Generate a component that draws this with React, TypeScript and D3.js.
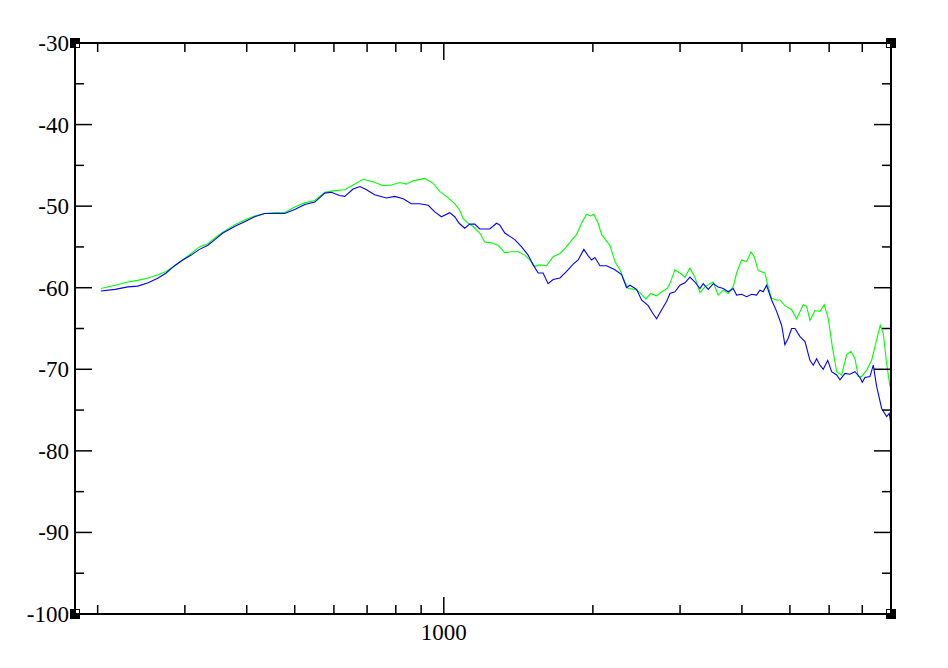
import React from "react";
import * as d3 from "d3";

const greenFreq = [203,217,230,241,253,265,275,286,297,309,321,334,345,358,378,396,415,435,456,477,500,524,549,575,602,631,656,687,720,754,784,815,841,867,915,952,981,1013,1052,1077,1094,1120,1146,1182,1210,1248,1287,1328,1370,1413,1458,1492,1527,1563,1613,1663,1716,1756,1811,1854,1897,1942,1979,2009,2050,2083,2165,2216,2268,2321,2357,2432,2489,2559,2616,2690,2754,2826,2862,2929,2998,3069,3141,3215,3290,3368,3447,3500,3582,3667,3753,3841,3902,3994,4088,4171,4236,4314,4451,4520,4592,4700,4773,4885,5040,5158,5320,5404,5488,5617,5749,5866,5976,6088,6214,6360,6510,6641,6766,6871,6980,7144,7311,7483,7610,7718,7840,7962];
const greenDb = [-60.1,-59.7,-59.3,-59.1,-58.8,-58.4,-58.0,-57.3,-56.6,-55.8,-55.0,-54.6,-53.9,-53.2,-52.3,-51.7,-51.2,-50.9,-50.8,-50.8,-50.1,-49.6,-49.3,-48.3,-48.1,-48.0,-47.4,-46.7,-47.0,-47.5,-47.4,-47.1,-47.3,-46.9,-46.6,-47.2,-48.2,-48.8,-49.7,-50.5,-51.5,-52.1,-52.5,-53.3,-54.4,-54.5,-54.8,-55.7,-55.6,-55.6,-56.0,-56.6,-57.4,-57.2,-57.3,-56.2,-55.8,-55.2,-54.2,-53.5,-52.1,-51.0,-51.2,-51.0,-52.1,-53.5,-54.8,-56.8,-57.8,-59.3,-60.1,-60.2,-60.6,-61.4,-60.7,-61.0,-60.5,-60.1,-59.5,-57.8,-58.2,-58.7,-57.6,-58.7,-60.6,-59.9,-59.5,-59.3,-60.9,-60.3,-60.7,-59.9,-58.2,-56.6,-56.8,-55.6,-56.2,-57.9,-58.2,-59.9,-61.3,-61.5,-61.5,-62.2,-62.7,-63.8,-62.1,-62.3,-64.0,-62.8,-62.9,-62.1,-63.8,-67.2,-70.3,-70.7,-68.2,-67.8,-68.7,-70.9,-70.9,-70.1,-68.9,-66.4,-64.6,-65.6,-69.3,-72.1];

const blueFreq = [203,217,230,241,253,265,275,286,297,309,321,334,345,358,378,396,415,435,456,477,500,524,549,575,593,616,631,656,677,698,725,766,796,828,860,894,930,959,989,1028,1052,1074,1102,1128,1155,1182,1238,1278,1297,1328,1391,1436,1480,1515,1551,1587,1624,1663,1716,1770,1825,1868,1918,1957,1988,2019,2067,2132,2216,2286,2339,2376,2451,2508,2587,2640,2690,2754,2818,2862,2929,2998,3069,3141,3215,3290,3341,3420,3500,3582,3667,3753,3841,3902,3994,4088,4184,4282,4349,4416,4486,4592,4700,4811,4885,4961,5040,5118,5240,5363,5488,5573,5661,5749,5839,5960,6071,6214,6310,6459,6609,6766,6925,7000,7087,7254,7367,7483,7660,7840,7937,7998];
const blueDb = [-60.4,-60.2,-59.9,-59.8,-59.4,-58.8,-58.2,-57.3,-56.6,-56.0,-55.3,-54.8,-54.1,-53.3,-52.5,-51.9,-51.3,-50.9,-50.9,-50.9,-50.4,-49.8,-49.5,-48.4,-48.3,-48.7,-48.8,-47.9,-47.6,-48.0,-48.6,-49.0,-48.8,-49.1,-49.7,-49.7,-49.9,-50.7,-51.3,-50.8,-51.3,-52.1,-52.7,-52.2,-52.2,-52.8,-52.8,-52.1,-52.3,-53.3,-54.1,-55.0,-56.0,-57.2,-58.2,-58.2,-59.5,-59.0,-58.8,-58.0,-57.1,-56.6,-55.3,-56.1,-56.6,-56.3,-57.3,-57.3,-57.8,-58.4,-60.0,-59.7,-60.2,-61.5,-62.2,-63.1,-63.8,-62.7,-61.7,-60.7,-60.5,-59.7,-59.4,-58.7,-59.3,-60.1,-59.5,-60.2,-59.5,-59.9,-60.1,-60.5,-60.1,-60.9,-60.8,-61.1,-60.8,-60.9,-60.3,-60.5,-59.7,-61.5,-62.9,-64.6,-67.0,-66.2,-65.0,-65.0,-66.0,-66.6,-68.9,-69.5,-68.7,-69.5,-70.0,-68.9,-70.3,-70.7,-71.3,-70.5,-70.6,-70.3,-71.0,-71.6,-71.0,-70.9,-69.5,-72.1,-74.8,-75.8,-75.4,-76.8];

const yMajorTicks = [-30, -40, -50, -60, -70, -80, -90, -100];
const yMinorTicks = [-35, -45, -55, -65, -75, -85, -95];
const xMajorTicks = [1000];
const xMinorTicks = [200, 300, 400, 500, 600, 700, 800, 900, 2000, 3000, 4000, 5000, 6000, 7000];
const xDomain = [180, 8000];
const yDomain = [-100, -30];

export default function App() {
  const W = 948, H = 668;
  const L = 75, R = 891, T = 43, B = 614;
  const x = d3.scaleLog().domain(xDomain).range([L, R]);
  const y = d3.scaleLinear().domain(yDomain).range([B, T]);
  const line = d3.line<[number, number]>().x(d => x(d[0])).y(d => y(d[1]));
  const green = line(greenFreq.map((f, i) => [f, greenDb[i]] as [number, number])) || "";
  const blue = line(blueFreq.map((f, i) => [f, blueDb[i]] as [number, number])) || "";
  const font = "'Liberation Serif', 'Times New Roman', serif";
  const corners: [number, number, number, number][] = [[L, T, 1, 1], [R, T, -1, 1], [L, B, 1, -1], [R, B, -1, -1]];
  return (
    <svg width={W} height={H} style={{ position: "absolute", left: 0, top: 0, background: "#fff" }}>
      <rect x={0} y={0} width={W} height={H} fill="#fff" />
      <path d={green} fill="none" stroke="#00ff00" strokeWidth={1.1} />
      <path d={blue} fill="none" stroke="#0000ff" strokeWidth={1.1} />
      <rect x={L} y={T} width={R - L} height={B - T} fill="none" stroke="#000" strokeWidth={2} />
      {yMajorTicks.map(v => (
        <g key={"ym" + v}>
          <line x1={L} x2={L + 17} y1={y(v)} y2={y(v)} stroke="#000" strokeWidth={1.5} />
          <line x1={R} x2={R - 17} y1={y(v)} y2={y(v)} stroke="#000" strokeWidth={1.5} />
          <text x={69} y={y(v) + 8} textAnchor="end" fontFamily={font} fontSize={23} fill="#000">{v}</text>
        </g>
      ))}
      {yMinorTicks.map(v => (
        <g key={"yn" + v}>
          <line x1={L} x2={L + 9} y1={y(v)} y2={y(v)} stroke="#000" strokeWidth={1.5} />
          <line x1={R} x2={R - 9} y1={y(v)} y2={y(v)} stroke="#000" strokeWidth={1.5} />
        </g>
      ))}
      {xMajorTicks.map(v => (
        <g key={"xm" + v}>
          <line x1={x(v)} x2={x(v)} y1={B} y2={B - 17} stroke="#000" strokeWidth={1.5} />
          <line x1={x(v)} x2={x(v)} y1={T} y2={T + 17} stroke="#000" strokeWidth={1.5} />
          <text x={x(v)} y={640} textAnchor="middle" fontFamily={font} fontSize={23} fill="#000">{v}</text>
        </g>
      ))}
      {xMinorTicks.map(v => (
        <g key={"xn" + v}>
          <line x1={x(v)} x2={x(v)} y1={B} y2={B - 9} stroke="#000" strokeWidth={1.5} />
          <line x1={x(v)} x2={x(v)} y1={T} y2={T + 9} stroke="#000" strokeWidth={1.5} />
        </g>
      ))}
      {corners.map(([cx, cy, dx, dy], i) => (
        <g key={"c" + i}>
          <rect x={cx - 5} y={cy - 5} width={10} height={10} fill="#000" />
          <rect x={dx > 0 ? cx + 1 : cx - 4} y={dy > 0 ? cy + 1 : cy - 4} width={3} height={3} fill="#fff" />
        </g>
      ))}
    </svg>
  );
}
